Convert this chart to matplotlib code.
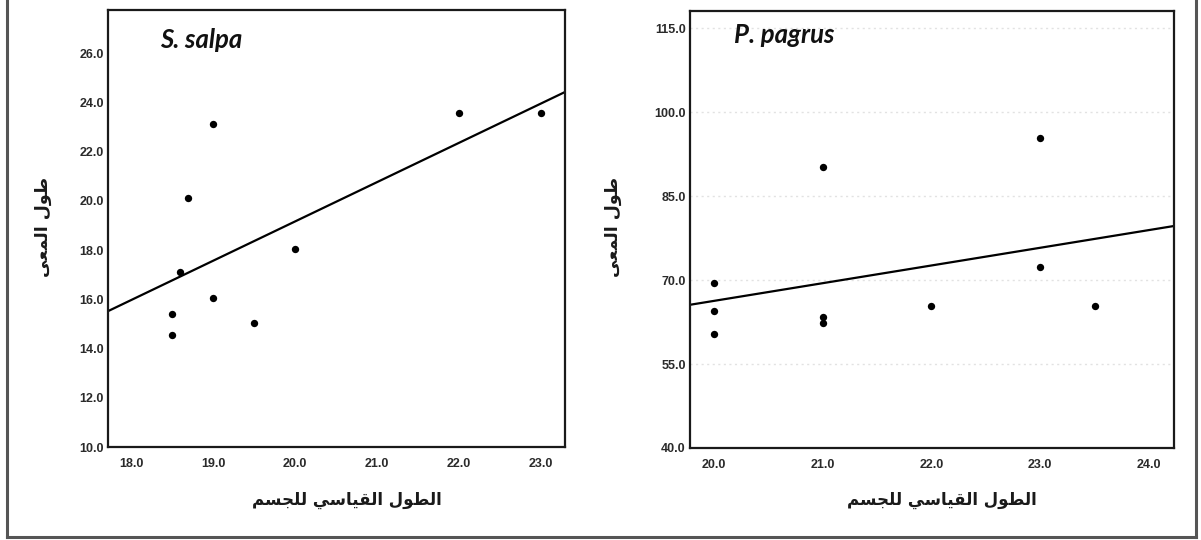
import numpy as np
import matplotlib
matplotlib.use("Agg")
import matplotlib.pyplot as plt
from matplotlib.lines import Line2D

# ---------------- data ----------------
salpa_x = [18.5, 18.5, 18.6, 18.7, 19.0, 19.0, 19.5, 20.0, 22.0, 23.0]
salpa_y = [15.4, 14.55, 17.1, 20.1, 23.1, 16.05, 15.05, 18.05, 23.55, 23.55]

pagrus_x = [20.0, 20.0, 20.0, 21.0, 21.0, 21.0, 22.0, 23.0, 23.0, 23.5]
pagrus_y = [69.4, 64.4, 60.4, 90.3, 63.4, 62.3, 65.4, 95.4, 72.4, 65.4]

salpa_xticks = [18.0, 19.0, 20.0, 21.0, 22.0, 23.0]
salpa_yticks = [10.0, 12.0, 14.0, 16.0, 18.0, 20.0, 22.0, 24.0, 26.0]
pagrus_xticks = [20.0, 21.0, 22.0, 23.0, 24.0]
pagrus_yticks = [40.0, 55.0, 70.0, 85.0, 100.0, 115.0]

species = ["S. salpa", "P. pagrus"]

# Arabic labels (logical text), shaped below into presentation forms for display
xlabel_ar = "الطول القياسي للجسم"
ylabel_ar = "طول المعى"

# ---------------- minimal Arabic shaping ----------------
# forms: (isolated, final, initial, medial); None for right-joining letters
FORMS = {
    "ا": (0xFE8D, 0xFE8E, None, None),
    "ل": (0xFEDD, 0xFEDE, 0xFEDF, 0xFEE0),
    "ط": (0xFEC1, 0xFEC2, 0xFEC3, 0xFEC4),
    "و": (0xFEED, 0xFEEE, None, None),
    "ق": (0xFED5, 0xFED6, 0xFED7, 0xFED8),
    "ي": (0xFEF1, 0xFEF2, 0xFEF3, 0xFEF4),
    "س": (0xFEB1, 0xFEB2, 0xFEB3, 0xFEB4),
    "ج": (0xFE9D, 0xFE9E, 0xFE9F, 0xFEA0),
    "م": (0xFEE1, 0xFEE2, 0xFEE3, 0xFEE4),
    "ع": (0xFEC9, 0xFECA, 0xFECB, 0xFECC),
    "ى": (0xFEEF, 0xFEF0, None, None),
}


def shape_word(word):
    out = []
    n = len(word)
    for i, ch in enumerate(word):
        f = FORMS[ch]
        prev_joins = i > 0 and FORMS[word[i - 1]][2] is not None
        next_exists = i < n - 1
        can_left = f[2] is not None
        if prev_joins and next_exists and can_left:
            cp = f[3]
        elif prev_joins:
            cp = f[1]
        elif next_exists and can_left:
            cp = f[2]
        else:
            cp = f[0]
        out.append(chr(cp))
    return "".join(reversed(out))


def shape(text):
    return " ".join(shape_word(w) for w in reversed(text.split(" ")))


xlabel_vis = shape(xlabel_ar)
ylabel_vis = shape(ylabel_ar)

# ---------------- figure ----------------
W, H = 1201, 540
fig = plt.figure(figsize=(W / 100, H / 100), dpi=100)
fig.patch.set_facecolor("white")


def px_box(l, t, r, b):
    return [l / W, 1 - b / H, (r - l) / W, (b - t) / H]


panels = [
    dict(x=salpa_x, y=salpa_y, xt=salpa_xticks, yt=salpa_yticks,
         xlim=(17.72, 23.29), ylim=(10.0, 27.75), box=px_box(108, 10, 565, 447),
         name=species[0], tpos=(0.114, 0.913), grid=False,
         xlab=(347, 500), ylab=(43, 227)),
    dict(x=pagrus_x, y=pagrus_y, xt=pagrus_xticks, yt=pagrus_yticks,
         xlim=(19.78, 24.23), ylim=(40.0, 118.1), box=px_box(690, 11, 1174, 448),
         name=species[1], tpos=(0.091, 0.926), grid=True,
         xlab=(942, 500), ylab=(613, 227)),
]

for p in panels:
    ax = fig.add_axes(p["box"])
    ax.set_xlim(*p["xlim"])
    ax.set_ylim(*p["ylim"])
    if p["grid"]:
        for yv in p["yt"][1:]:
            ax.axhline(yv, color="#e2e2e2", lw=1.0, ls=(0, (1.5, 2.5)), zorder=0)
    ax.scatter(p["x"], p["y"], s=28, color="black", zorder=3, linewidths=0)
    slope, intercept = np.polyfit(p["x"], p["y"], 1)
    xx = np.array(p["xlim"])
    ax.plot(xx, slope * xx + intercept, color="black", lw=1.6, zorder=2,
            solid_capstyle="butt")
    ax.set_xticks(p["xt"])
    ax.set_yticks(p["yt"])
    ax.set_xticklabels([f"{v:.1f}" for v in p["xt"]])
    ax.set_yticklabels([f"{v:.1f}" for v in p["yt"]])
    ax.tick_params(length=0, labelsize=9, labelcolor="#2a2a2a")
    ax.tick_params(axis="x", pad=8)
    ax.tick_params(axis="y", pad=3)
    for lab in ax.get_xticklabels() + ax.get_yticklabels():
        lab.set_fontfamily("Liberation Sans")
        lab.set_fontweight("bold")
    for s in ax.spines.values():
        s.set_linewidth(1.6)
        s.set_color("#1a1a1a")
    ax.text(p["tpos"][0], p["tpos"][1], p["name"], transform=ax.transAxes,
            fontsize=18.5, fontweight="bold", fontstyle="italic",
            family="Lato", ha="left", va="baseline", color="#111111")
    fig.text(p["xlab"][0] / W, 1 - p["xlab"][1] / H, xlabel_vis,
             fontsize=12, fontweight="bold", family=["DejaVu Sans"],
             ha="center", va="center", color="#1a1a1a")
    fig.text(p["ylab"][0] / W, 1 - p["ylab"][1] / H, ylabel_vis,
             fontsize=12.5, fontweight="bold", family=["DejaVu Sans"],
             ha="center", va="center", rotation=90, color="#1a1a1a")

# outer border
bc = "#555555"
l, r, b, t = 7 / W, 1196 / W, 1 - 537 / H, 1.0
for xs, ys in [([l, l], [b, t]), ([l, r], [b, b]), ([r, r], [b, t])]:
    fig.add_artist(Line2D(xs, ys, transform=fig.transFigure, color=bc, lw=2.2))

fig.savefig("out.png", dpi=100, facecolor="white")
